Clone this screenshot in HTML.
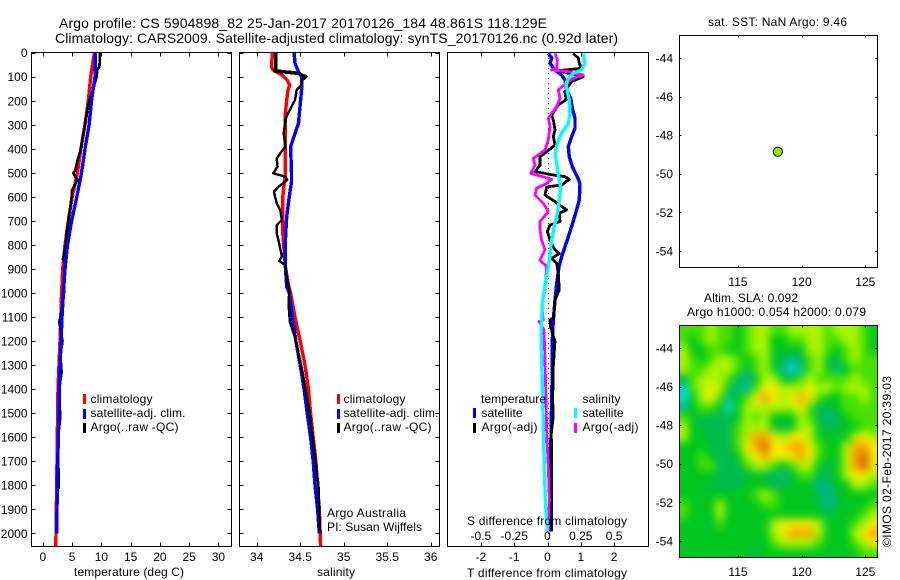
<!DOCTYPE html>
<html lang="en">
<head>
<meta charset="utf-8">
<title>Argo profile</title>
<style>
html,body{margin:0;padding:0;background:#fff;width:900px;height:580px;overflow:hidden}
svg{display:block}
text{font-family:"Liberation Sans",sans-serif;font-size:12px;fill:#000}
.title{font-size:14px}
</style>
</head>
<body>
<svg id="chart" xmlns="http://www.w3.org/2000/svg" width="900" height="580" viewBox="0 0 900 580">
<defs>
<filter id="heat-blur" filterUnits="userSpaceOnUse" x="640" y="290" width="280" height="300" color-interpolation-filters="sRGB"><feGaussianBlur stdDeviation="4.2"/></filter>
<clipPath id="heat-clip"><rect x="679.5" y="325.5" width="198" height="232"/></clipPath>
</defs>
<rect x="0" y="0" width="900" height="580" fill="#fff"/>
<text class="title" x="59" y="28" textLength="488">Argo profile: CS 5904898_82 25-Jan-2017 20170126_184 48.861S 118.129E</text>
<text class="title" x="55" y="43" textLength="563">Climatology: CARS2009. Satellite-adjusted climatology: synTS_20170126.nc (0.92d later)</text>

<g id="heat"></g>
<g id="axes"></g>
<g id="marks"></g>

<text x="129" y="576" text-anchor="middle" textLength="110">temperature (deg C)</text>
<text x="336" y="576" text-anchor="middle" textLength="38">salinity</text>
<text x="467" y="577" textLength="160">T difference from climatology</text>
<text x="467" y="525" textLength="160">S difference from climatology</text>

<g>
<rect x="83" y="394" width="3" height="10" fill="#f00"/>
<text x="90.5" y="403" textLength="62">climatology</text>
<rect x="83" y="409" width="3" height="10" fill="#00f"/>
<text x="90.5" y="417" textLength="95">satellite-adj. clim.</text>
<rect x="83" y="423" width="3" height="10" fill="#000"/>
<text x="90.5" y="431" textLength="88">Argo(..raw -QC)</text>
</g>
<g>
<rect x="337" y="394" width="3" height="10" fill="#f00"/>
<text x="343.5" y="403" textLength="62">climatology</text>
<rect x="337" y="409" width="3" height="10" fill="#00f"/>
<text x="343.5" y="417" textLength="95">satellite-adj. clim.</text>
<rect x="337" y="423" width="3" height="10" fill="#000"/>
<text x="343.5" y="431" textLength="88">Argo(..raw -QC)</text>
</g>
<text x="327" y="517" textLength="79">Argo Australia</text>
<text x="327" y="531" textLength="95">PI: Susan Wijffels</text>

<g>
<text x="481" y="403" textLength="65">temperature</text>
<rect x="473" y="408" width="3" height="10" fill="#00f"/>
<text x="481.5" y="417" textLength="41">satellite</text>
<rect x="473" y="423" width="3" height="10" fill="#000"/>
<text x="481.5" y="431" textLength="56">Argo(-adj)</text>
<text x="582.5" y="403" textLength="38">salinity</text>
<rect x="574" y="408" width="3" height="10" fill="#0ff"/>
<text x="582.5" y="417" textLength="41">satellite</text>
<rect x="574" y="423" width="3" height="10" fill="#f0f"/>
<text x="582.5" y="431" textLength="56">Argo(-adj)</text>
</g>

<text x="708" y="26" textLength="139">sat. SST: NaN Argo: 9.46</text>
<text x="704" y="302" textLength="94">Altim. SLA: 0.092</text>
<text x="687" y="316" textLength="179">Argo h1000: 0.054 h2000: 0.079</text>
<text transform="translate(891 547) rotate(-90)" textLength="171">©IMOS 02-Feb-2017 20:39:03</text>
</svg>
<script>
/* ---------- tick labels ---------- */
var depthTicks = [0,100,200,300,400,500,600,700,800,900,1000,1100,1200,1300,1400,1500,1600,1700,1800,1900,2000];
var tempTicks = [0,5,10,15,20,25,30];
var salTicks = [34,34.5,35,35.5,36];
var dtTicks = [-2,-1,0,1,2];
var dsTicks = [-0.5,-0.25,0,0.25,0.5];
var lonTicks = [115,120,125];
var latTicks = [-44,-46,-48,-50,-52,-54];

/* ---------- temperature panel ---------- */
var tClimDepth = [0,100,200,300,400,500,600,700,800,900,1000,1200,1400,1600,1800,2000,2055];
var tClimValue = [8.8,8.17,7.76,7.2,6.5,5.9,5,4.35,3.78,3.38,3.2,2.92,2.58,2.47,2.36,2.24,2.2];
var tSatDepth = [0,100,200,300,400,500,600,700,800,900,1000,1100,1200,1400,1600,1800,2000];
var tSatValue = [9.0,8.9,8.3,7.9,7.2,6.6,5.8,4.9,4.2,3.78,3.5,3.27,3.1,2.8,2.63,2.47,2.36];
var tArgoDepth = [0,60,70,100,150,200,300,400,450,490,502,530,575,600,700,750,800,860,870,900,1000,1100,1120,1200,1260,1330,1400,1520,1600,1815];
var tArgoValue = [9.76,9.65,9.3,9.2,8.6,7.9,7.15,6.5,5.9,5.5,5.2,5.9,4.9,4.9,4.35,4.05,3.9,3.4,3.8,3.67,3.6,3.05,2.8,3.35,3.0,3.2,2.8,2.95,2.6,2.7];

/* ---------- salinity panel ---------- */
var sClimDepth = [0,58,72,93,114,135,155,197,252,336,502,599,752,891,974,1000,1100,1200,1300,1400,1500,1600,1700,1800,1900,2000,2055];
var sClimValue = [34.18,34.17,34.19,34.29,34.35,34.38,34.36,34.345,34.33,34.33,34.33,34.30,34.30,34.33,34.37,34.39,34.44,34.5,34.555,34.595,34.62,34.65,34.68,34.70,34.72,34.73,34.735];
var sSatDepth = [0,44,79,103,141,197,294,336,391,502,537,599,682,780,891,974,1000,1100,1200,1300,1400,1500,1600,1700,1800,1900,2000];
var sSatValue = [34.43,34.44,34.48,34.52,34.52,34.505,34.48,34.44,34.39,34.40,34.40,34.375,34.345,34.33,34.33,34.345,34.375,34.41,34.45,34.5,34.545,34.58,34.62,34.65,34.67,34.70,34.72];
var sArgoDepth = [0,65,76,82,86,94,100,111,117,135,155,197,225,259,280,336,391,419,440,474,502,516,530,558,578,599,627,655,696,717,752,780,814,849,867,884,932,988,1043,1119,1196,1334,1500,1800,1900,2000];
var sArgoValue = [34.22,34.22,34.21,34.38,34.48,34.52,34.575,34.536,34.52,34.51,34.46,34.44,34.40,34.35,34.33,34.31,34.33,34.27,34.23,34.24,34.19,34.33,34.35,34.25,34.2,34.21,34.23,34.27,34.29,34.23,34.23,34.25,34.27,34.29,34.26,34.33,34.345,34.375,34.365,34.38,34.45,34.53,34.61,34.71,34.72,34.73];

/* ---------- difference panel ---------- */
var dtSatDepth = [3,23,44,72,93,114,155,190,232,273,315,349,391,433,474,516,544,613,654,710,779,849,890,960,1029,1112,1196,1306,1445,1584,1723,1861,1993];
var dtSatValue = [0.025,0.125,0.075,0.225,0.425,0.525,0.575,0.70,0.745,0.825,0.825,0.725,0.625,0.655,0.745,0.895,0.975,0.955,0.875,0.755,0.595,0.425,0.345,0.275,0.225,0.175,0.145,0.145,0.125,0.105,0.095,0.085,0.105];
var dtArgoDepth = [3,23,44,65,75,100,120,141,162,197,217,259,280,322,349,384,412,433,468,495,509,516,527,551,558,592,620,654,668,703,717,745,779,821,835,856,877,918,988,1029,1100,1112,1140,1202,1306,1445,1514,1584,1723,1861,1993];
var dtArgoValue = [0.775,0.925,0.955,1.025,0.33,1.075,0.725,0.625,0.525,0.555,0.325,0.125,0.175,0.225,0.175,0.225,-0.025,-0.225,-0.225,-0.375,0.175,0.525,0.655,0.425,-0.025,-0.075,0.225,0.575,0.355,0.375,0.075,-0.005,0.075,0.225,0.355,0.125,0.275,0.325,0.355,0.225,0.195,0.075,0.09,0.225,0.175,0.155,0.175,0.115,0.125,0.125,0.125];
var dsArgoDepth = [3,30,65,72,79,93,107,120,155,190,224,273,308,363,405,440,468,502,513,527,544,564,592,627,661,703,738,779,821,863,890,988,1057,1112,1119,1154,1279,1445,1584,1723,1861,1993];
var dsArgoValue = [0.056,0.074,0.069,0.031,0.156,0.269,0.194,0.156,0.081,0.094,0.069,0.006,0.019,0.006,-0.019,-0.106,-0.094,-0.126,-0.056,0.031,-0.006,-0.081,-0.094,-0.031,0.006,-0.056,-0.056,-0.044,-0.019,-0.056,-0.006,-0.019,-0.044,-0.031,-0.064,-0.026,-0.019,-0.011,-0.006,0.006,0.014,0.006];
var dsSatDepth = [3,44,72,86,107,127,162,197,252,294,335,377,419,460,509,558,613,668,710,779,863,946,1029,1112,1168,1445,1723,1861,1993];
var dsSatValue = [0.269,0.281,0.256,0.194,0.156,0.139,0.149,0.164,0.169,0.156,0.106,0.074,0.056,0.069,0.081,0.099,0.089,0.074,0.056,0.031,0.014,-0.011,-0.036,-0.044,-0.049,-0.036,-0.024,-0.016,-0.001];

/* ---------- map ---------- */
var floatLon = [118.129];
var floatLat = [-48.861];
var heatPalette = ["#00d7d7","#00b991","#00ba4e","#00c81e","#46e100","#aaf500","#f5eb00","#faaa00","#d76400"];
var heatRows = [
[4,4,4,5,4,4,3,4,5,5,4,4,5,5,5,5,4,5,5,5,4,3],
[4,3,4,5,4,4,3,4,5,5,3,3,4,4,5,5,4,4,5,5,4,3],
[5,3,3,4,4,3,3,4,5,5,3,3,3,3,5,5,4,3,4,5,4,3],
[5,4,3,4,5,5,4,3,4,5,3,2,1,2,4,5,3,2,4,5,4,4],
[5,4,4,5,5,5,4,2,4,5,3,1,0,1,4,5,3,1,3,4,4,4],
[2,4,5,5,5,4,2,1,3,5,5,3,2,4,5,4,4,4,4,5,4,4],
[0,4,5,6,5,3,1,1,4,6,6,5,5,5,6,5,5,4,5,5,5,4],
[0,3,5,6,4,1,3,4,6,7,6,5,6,7,6,4,3,3,4,4,5,4],
[1,3,4,4,3,0,3,5,5,5,5,5,5,6,4,2,2,3,4,4,4,4],
[4,3,2,2,2,2,3,5,4,5,3,3,3,5,4,2,1,2,3,4,4,4],
[5,3,2,2,2,2,4,5,5,5,3,2,3,5,5,3,2,2,3,3,4,4],
[5,3,3,2,2,2,4,5,7,7,6,5,6,6,5,3,3,3,3,5,6,5],
[3,3,3,2,2,2,4,6,7,8,6,6,7,7,6,4,3,3,5,7,7,6],
[3,3,4,3,2,2,3,5,6,7,6,6,6,7,6,4,3,3,5,7,8,6],
[3,3,4,4,2,2,2,4,5,5,4,3,4,5,5,3,2,3,5,7,8,6],
[3,3,3,3,2,2,2,2,3,2,2,1,2,4,4,2,2,3,5,6,6,5],
[3,3,3,2,2,2,2,3,3,3,2,2,3,3,3,1,1,3,3,5,5,4],
[3,3,3,3,3,3,3,3,4,5,4,3,3,3,3,2,1,2,3,3,3,3],
[4,3,3,3,5,3,3,3,3,4,4,3,3,3,3,2,1,2,3,3,3,4],
[4,3,3,3,5,3,3,3,3,3,3,3,3,3,3,3,2,3,3,3,4,5],
[3,3,3,2,4,3,3,3,3,3,5,6,6,6,6,5,3,3,3,4,5,6],
[3,3,3,3,3,3,3,3,3,3,5,6,7,7,7,5,3,3,3,5,6,7],
[3,3,3,3,3,3,3,3,3,3,4,5,5,5,5,4,3,3,3,4,5,6],
[3,3,3,3,3,3,3,3,2,3,3,3,3,3,3,3,3,3,3,3,4,4]
];

/* ---------- axis functions ---------- */
function yDepth(d){return 52.7+0.2403*d;}
function xTemp(t){return 42.9+5.85*t;}
function xSal(s){return 256.7+87*(s-34);}
function xDT(t){return 547.5+33.3*t;}
function xDS(s){return xDT(4*s);}
function xLon(l){return 738+12.73*(l-115);}
function yLatTop(l){return 58.1+19.27*(-44-l);}
function yLatBottom(l){return 348.1+19.27*(-44-l);}

var NS = "http://www.w3.org/2000/svg";
function make(tag,parent,attrs){
  var e=document.createElementNS(NS,tag);
  for(var k in attrs){e.setAttribute(k,attrs[k]);}
  parent.appendChild(e);
  return e;
}
function label(parent,x,y,str,anchor){
  var e=make("text",parent,{x:x,y:y,"text-anchor":anchor});
  e.textContent=str;
  return e;
}
var axes=document.getElementById("axes");
var marks=document.getElementById("marks");
var heat=document.getElementById("heat");

/* heatmap cells */
var heatClip=make("g",heat,{"clip-path":"url(#heat-clip)"});
var heatGroup=make("g",heatClip,{filter:"url(#heat-blur)"});
var cellW=198/heatRows[0].length, cellH=232/heatRows.length;
heatRows.forEach(function(row,j){
  row.forEach(function(v,i){
    var x0=679.5+i*cellW, y0=325.5+j*cellH;
    var x=i===0?x0-25:x0, y=j===0?y0-25:y0;
    var w=cellW+0.5+(i===0?25:0)+(i===row.length-1?25:0);
    var h=cellH+0.5+(j===0?25:0)+(j===heatRows.length-1?25:0);
    var cell=make("rect",heatGroup,{x:x,y:y,width:w,height:h,fill:heatPalette[v]});
    
    
  });
});

/* frame and ticks */
function panel(name,l,t,r,b){
  var g=make("g",axes,{"shape-rendering":"crispEdges"});
  
  
  var f=make("rect",g,{x:l,y:t,width:r-l,height:b-t,fill:"none",stroke:"#000","stroke-width":1});
  
  
  return g;
}
function hTicks(g,vals,fx,t,b,len,lblY,lblFn){
  vals.forEach(function(v){
    var x=Math.round(fx(v))+0.5;
    var a=make("line",g,{x1:x,x2:x,y1:b,y2:b-len,stroke:"#000"});
    
    
    var c=make("line",g,{x1:x,x2:x,y1:t,y2:t+len,stroke:"#000"});
    
    
    if(lblY){
      var e=label(axes,fx(v),lblY,lblFn?lblFn(v):String(v),"middle");
      
      
    }
  });
}
function vTicks(g,vals,fy,l,r,len,lblX){
  vals.forEach(function(v){
    var y=Math.round(fy(v))+0.5;
    var a=make("line",g,{x1:l,x2:l+len,y1:y,y2:y,stroke:"#000"});
    
    
    var c=make("line",g,{x1:r,x2:r-len,y1:y,y2:y,stroke:"#000"});
    
    
    if(lblX){
      var e=label(axes,lblX,fy(v)+4.5,String(v),"end");
      
      
    }
  });
}
var p1=panel("temperature-panel",31.5,52.5,231.5,546.5);
hTicks(p1,tempTicks,xTemp,52.5,546.5,4,561);
vTicks(p1,depthTicks,yDepth,31.5,231.5,4,27.5);
var p2=panel("salinity-panel",239.5,52.5,439.5,546.5);
hTicks(p2,salTicks,xSal,52.5,546.5,4,561);
vTicks(p2,depthTicks,yDepth,239.5,439.5,4,null);
var p3=panel("difference-panel",447.5,52.5,648.5,546.5);
hTicks(p3,dtTicks,xDT,52.5,546.5,4,561);
vTicks(p3,depthTicks,yDepth,447.5,648.5,0,null);
dsTicks.forEach(function(v){
  var e=label(axes,xDS(v),540,String(v),"middle");
  
  
});
var m1=panel("sst-map",679.5,35.5,877.5,267.5);
hTicks(m1,lonTicks,xLon,35.5,267.5,2,286);
vTicks(m1,latTicks,yLatTop,679.5,877.5,2,673);
var m2=panel("sla-map-frame",679.5,325.5,877.5,557.5);
hTicks(m2,lonTicks,xLon,325.5,557.5,2,576);
vTicks(m2,latTicks,yLatBottom,679.5,877.5,2,673);

/* zero reference line */
var zero=make("line",marks,{x1:xDT(0)+1,x2:xDT(0)+1,y1:53,y2:546,stroke:"#000","stroke-width":1,"stroke-dasharray":"1 4","shape-rendering":"crispEdges"});



/* profile lines */
function profile(depths,vals,fx,color,width){
  var pts=depths.map(function(d,i){return fx(vals[i]).toFixed(1)+","+yDepth(d).toFixed(1);}).join(" ");
  return make("polyline",marks,{points:pts,fill:"none",stroke:color,"stroke-width":width,"stroke-linejoin":"round","shape-rendering":"crispEdges"});
}
var l;
l=profile(tClimDepth,tClimValue,xTemp,"#f00",3.4);


l=profile(tArgoDepth,tArgoValue,xTemp,"#000",2.6);


l=profile(tSatDepth,tSatValue,xTemp,"#00f",3.4);


l=profile(sClimDepth,sClimValue,xSal,"#f00",3.4);


l=profile(sSatDepth,sSatValue,xSal,"#00f",3.4);


l=profile(sArgoDepth,sArgoValue,xSal,"#000",2.4);


l=profile(sArgoDepth.slice(0,7),sArgoValue.slice(0,7),xSal,"#000",3.6);


l=profile(dtSatDepth,dtSatValue,xDT,"#00f",3.4);


l=profile(dtArgoDepth,dtArgoValue,xDT,"#000",2.8);


l=profile(dsArgoDepth,dsArgoValue,xDS,"#f0f",2.8);


l=profile(dsSatDepth,dsSatValue,xDS,"#0ff",3.4);



/* float location */
var dot=make("circle",marks,{cx:xLon(floatLon[0]),cy:yLatTop(floatLat[0]),r:4.6,fill:"#8fee00",stroke:"#000","stroke-width":1});


</script>
</body>
</html>
